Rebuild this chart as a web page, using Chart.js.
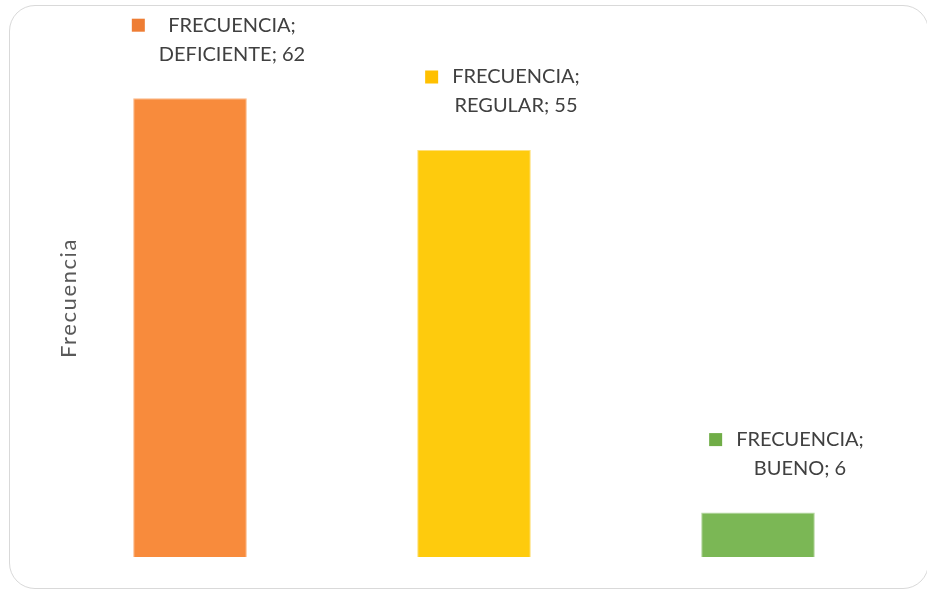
<!DOCTYPE html>
<html><head><meta charset="utf-8">
<script src="https://cdn.jsdelivr.net/npm/chart.js@4"></script>
<style>
html,body{margin:0;padding:0;background:#fff;overflow:hidden;}
#wrap{position:relative;width:927px;height:589px;overflow:hidden;}
#frame{position:absolute;left:9px;top:5px;width:918px;height:582px;border:1.5px solid #d9d9d9;border-radius:26px;pointer-events:none;}
canvas{position:absolute;left:0;top:0;}
</style></head>
<body>
<div id="wrap"><div id="frame"></div><canvas id="c" width="927" height="589"></canvas></div>
<script>
const categories = ['DEFICIENTE', 'REGULAR', 'BUENO'];
const seriesName = 'FRECUENCIA';
const values = [62, 55, 6];
const axisTitle = 'Frecuencia';
const barColors = ['#F88B3C', '#FECB0D', '#7BB755'];
const markerColors = ['#EE7D34', '#FFC000', '#70AD47'];

const labelPlugin = {
  id: 'excelLabels',
  afterDatasetsDraw(chart) {
    const ctx = chart.ctx;
    const meta = chart.getDatasetMeta(0);
    ctx.save();
    ctx.font = '20px Lato, "Open Sans", sans-serif';
    ctx.fillStyle = '#404040';
    ctx.textBaseline = 'middle';
    ctx.textAlign = 'center';
    meta.data.forEach((bar, i) => {
      const l1 = seriesName + ';';
      const l2 = categories[i] + '; ' + values[i];
      const w = Math.max(ctx.measureText(l1).width, ctx.measureText(l2).width);
      const cx = bar.x + 42;
      const y1 = bar.y - 73;
      const y2 = bar.y - 44;
      ctx.fillText(l1, cx, y1);
      ctx.fillText(l2, cx, y2);
      ctx.fillStyle = markerColors[i];
      ctx.fillRect(cx - w / 2 - 27, y1 - 6.5, 13, 13);
      ctx.fillStyle = '#404040';
    });
    // axis title
    ctx.translate(69, 298);
    ctx.rotate(-Math.PI / 2);
    ctx.fillStyle = '#595959';
    ctx.font = '22px Lato, "Open Sans", sans-serif';
    ctx.letterSpacing = '1.6px';
    ctx.fillText(axisTitle, 0, 0);
    ctx.restore();
  }
};

new Chart(document.getElementById('c'), {
  type: 'bar',
  data: {
    labels: categories,
    datasets: [{
      label: seriesName,
      data: values,
      backgroundColor: barColors,
      borderColor: ['#FBB887', '#FFE07A', '#B5D6A0'],
      borderWidth: 1,
      barPercentage: 0.4,
      categoryPercentage: 1.0
    }]
  },
  options: {
    responsive: false,
    animation: false,
    layout: { padding: { top: 39, bottom: 32, left: 48, right: 27 } },
    plugins: { legend: { display: false }, tooltip: { enabled: false } },
    scales: {
      x: { display: false },
      y: { display: false, min: 0, max: 70 }
    }
  },
  plugins: [labelPlugin]
});
</script>
</body></html>
